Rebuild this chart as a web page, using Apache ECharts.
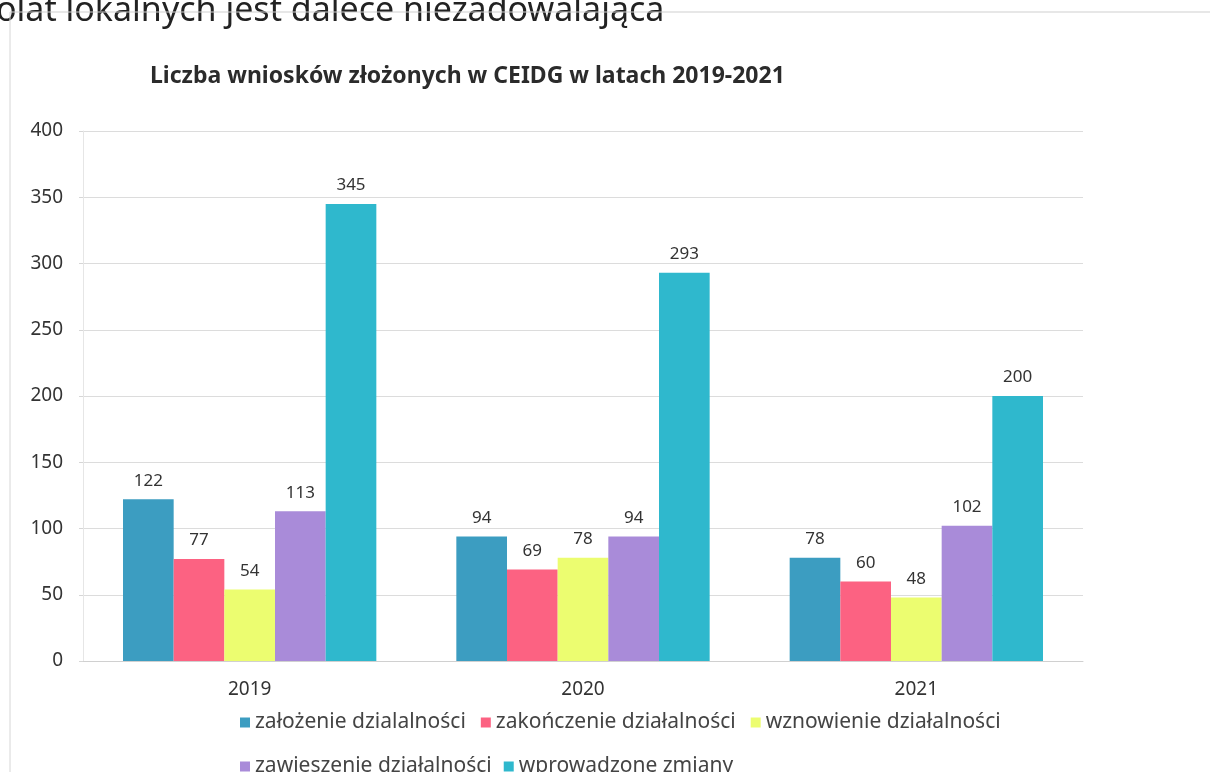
<!DOCTYPE html>
<html>
<head>
<meta charset="utf-8">
<script src="https://cdn.jsdelivr.net/npm/echarts@6/dist/echarts.min.js"></script>
<style>
html,body{margin:0;padding:0;background:#fff;}
#chart{width:1210px;height:772px;}
</style>
</head>
<body>
<div id="chart"></div>
<script>
const categories = ['2019', '2020', '2021'];
const seriesNames = ['założenie dzialalności', 'zakończenie działalności', 'wznowienie działalności', 'zawieszenie działalności', 'wprowadzone zmiany'];
const zalozenie = [122, 94, 78];
const zakonczenie = [77, 69, 60];
const wznowienie = [54, 78, 48];
const zawieszenie = [113, 94, 102];
const zmiany = [345, 293, 200];
const yTicks = [0, 400, 50];

const colors = ['#3C9DC1', '#FC6282', '#ECFD70', '#A98BD9', '#2FB8CD'];
const values = [zalozenie, zakonczenie, wznowienie, zawieszenie, zmiany];

const chart = echarts.init(document.getElementById('chart'));
const font = 'Noto Sans';
const legendText = { fontFamily: font, fontSize: 21, color: '#444' };
chart.setOption({
  backgroundColor: '#fff',
  animation: false,
  title: {
    text: 'Liczba wniosków złożonych w CEIDG w latach 2019-2021',
    left: 145, top: 60,
    textStyle: { fontFamily: font, fontWeight: 'bold', fontSize: 23, color: '#2b2b2b' }
  },
  graphic: [
    { type: 'text', left: -4, top: -6, style: { text: 'olat lokalnych jest dalece niezadowalająca', font: '34px "Noto Sans"', fill: '#222' } },
    { type: 'line', shape: { x1: 10, y1: 12, x2: 1210, y2: 12 }, style: { stroke: '#cfcfcf', lineWidth: 1 } },
    { type: 'line', shape: { x1: 10, y1: 12, x2: 10, y2: 772 }, style: { stroke: '#d6d6d6', lineWidth: 1 } }
  ],
  legend: [
    {
      data: seriesNames.slice(0, 3), left: 235, top: 707, itemWidth: 10, itemHeight: 10, itemGap: 15,
      icon: 'rect', textStyle: legendText
    },
    {
      data: seriesNames.slice(3), left: 235, top: 751, itemWidth: 10, itemHeight: 10, itemGap: 12,
      icon: 'rect', textStyle: legendText
    }
  ],
  grid: { left: 83, right: 127, top: 131, bottom: 111, containLabel: false },
  xAxis: {
    type: 'category', data: categories,
    axisLine: { lineStyle: { color: '#d0d0d0' } },
    axisTick: { show: false },
    axisLabel: { fontFamily: font, fontSize: 19, color: '#333', margin: 19 }
  },
  yAxis: {
    type: 'value', min: yTicks[0], max: yTicks[1], interval: yTicks[2],
    axisLine: { show: true, lineStyle: { color: '#e6e6e6' } },
    axisTick: { show: true, length: 4, lineStyle: { color: '#d6d6d6' } },
    splitLine: { lineStyle: { color: '#dcdcdc' } },
    axisLabel: { fontFamily: font, fontSize: 19, color: '#333', margin: 20 }
  },
  series: seriesNames.map((n, i) => ({
    name: n, type: 'bar', data: values[i],
    barGap: '0%', barCategoryGap: '24%',
    itemStyle: { color: colors[i] },
    label: { show: true, position: 'top', distance: 10, fontFamily: font, fontSize: 17, color: '#333' }
  }))
});
</script>
</body>
</html>
